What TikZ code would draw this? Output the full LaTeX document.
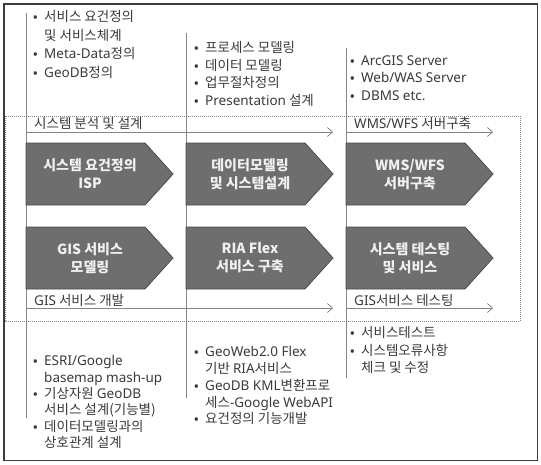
\documentclass[tikz,border=0pt]{standalone}
\usepackage{fontspec}
\setmainfont{Noto Sans CJK KR}
\newfontfamily\latfont{Noto Sans}
\usepackage{xcolor}
\usetikzlibrary{arrows.meta, positioning}

\definecolor{framegray}{HTML}{3C3C3C}
\definecolor{linegray}{HTML}{858585}
\definecolor{boxfill}{HTML}{6E6E6E}
\definecolor{boxline}{HTML}{4A4A4A}
\definecolor{textgray}{HTML}{3A3A3A}

\newcommand{\bul}{\makebox[11pt][l]{•}}
\newcommand{\ind}{\hspace*{11pt}}
\newcommand{\la}[1]{{\latfont #1}}

\begin{document}
\begin{tikzpicture}[x=1pt, y=-1pt, >={Straight Barb[length=5pt,width=9pt]},
    stagebox/.style={fill=boxfill, draw=boxline, line width=0.8pt},
    stagetext/.style={text=white!94!black, font={\fontsize{14}{18}\selectfont\bfseries}, align=center, inner sep=0},
    notes/.style={text=textgray, font={\fontsize{13.5}{17.5}\selectfont}, align=left, anchor=north west, inner sep=0},
    phaselabel/.style={text=textgray, font={\fontsize{13.5}{15}\selectfont}, anchor=west, inner sep=0},
    timeline/.style={->, draw=linegray, line width=0.8pt},
    colline/.style={draw=linegray, line width=0.8pt}]
  \useasboundingbox (0,0) rectangle (541,464);
  \draw[framegray, line width=1.5pt] (4,4) rectangle (537.5,460.5);
  \draw[linegray, line width=0.6pt, dash pattern=on 1pt off 1pt] (5,116) rectangle (520,321);
  % column lines
  \draw[colline] (26,13) -- (26,418);
  \draw[colline] (186,33) -- (186,398);
  \draw[colline] (346,48) -- (346,378);
  % upper notes
  \node[notes, font={\fontsize{13.5}{18.5}\selectfont}] (topA) at (33,10.5) {\bul 서비스 요건정의\\\ind 및 서비스체계\\\bul \la{Meta-Data}정의\\\bul \la{GeoDB}정의};
  \node[notes] (topB) at (194,41.5) {\bul 프로세스 모델링\\\bul 데이터 모델링\\\bul 업무절차정의\\\bul \la{Presentation} 설계};
  \node[notes] (topC) at (350,55.5) {\bul \la{ArcGIS Server}\\\bul \la{Web/WAS Server}\\\bul \la{DBMS etc.}};
  % phases
  \node[phaselabel] (anaLbl) at (34,123) {시스템 분석 및 설계};
  \node[phaselabel] (wmsLbl) at (354,123) {\la{WMS/WFS} 서버구축};
  \node[phaselabel] (devLbl) at (34,300) {\la{GIS} 서비스 개발};
  \node[phaselabel] (tstLbl) at (354,300) {\la{GIS}서비스 테스팅};
  \coordinate (anaS) at (26,132);  \coordinate (anaE) at (333,132);
  \coordinate (wmsS) at (346,132); \coordinate (wmsE) at (493,132);
  \coordinate (devS) at (26,308);  \coordinate (devE) at (333,308);
  \coordinate (tstS) at (346,308); \coordinate (tstE) at (493,308);
  \draw[timeline] (anaS) -- (anaE);
  \draw[timeline] (wmsS) -- (wmsE);
  \draw[timeline] (devS) -- (devE);
  \draw[timeline] (tstS) -- (tstE);
  % stage boxes
  \foreach \bname/\bx/\by/\btop/\bbot in {
    req/26/143/{시스템 요건정의}/{ISP},
    dmod/186/143/{데이터모델링}/{및 시스템설계},
    wms/346/143/{WMS/WFS}/{서버구축},
    gis/26/227/{GIS 서비스}/{모델링},
    ria/186/227/{RIA Flex}/{서비스 구축},
    tst/346/227/{시스템 테스팅}/{및 서비스}}
  {
    \draw[stagebox] (\bx,\by) -- ++(119,0) -- ++(28,31) -- ++(-28,31) -- ++(-119,0) -- cycle;
    \node[stagetext] (\bname) at (\bx+64,\by+31) {\btop\\\bbot};
  }
  % lower notes
  \node[notes, font={\fontsize{13.5}{16.3}\selectfont}] (botA) at (33,355.5) {\bul \la{ESRI/Google}\\\ind \la{basemap mash-up}\\\bul 기상자원 \la{GeoDB}\\\ind 서비스 설계(기능별)\\\bul 데이터모델링과의\\\ind 상호관계 설계};
  \node[notes, font={\fontsize{13.5}{16.7}\selectfont}] (botB) at (194,346.5) {\bul \la{GeoWeb2.0 Flex}\\\ind 기반 \la{RIA}서비스\\\bul \la{GeoDB KML}변환프로\\\ind 세스\la{-Google WebAPI}\\\bul 요건정의 기능개발};
  \node[notes] (botC) at (350,326.5) {\bul 서비스테스트\\\bul 시스템오류사항\\\ind 체크 및 수정};
\end{tikzpicture}
\end{document}
